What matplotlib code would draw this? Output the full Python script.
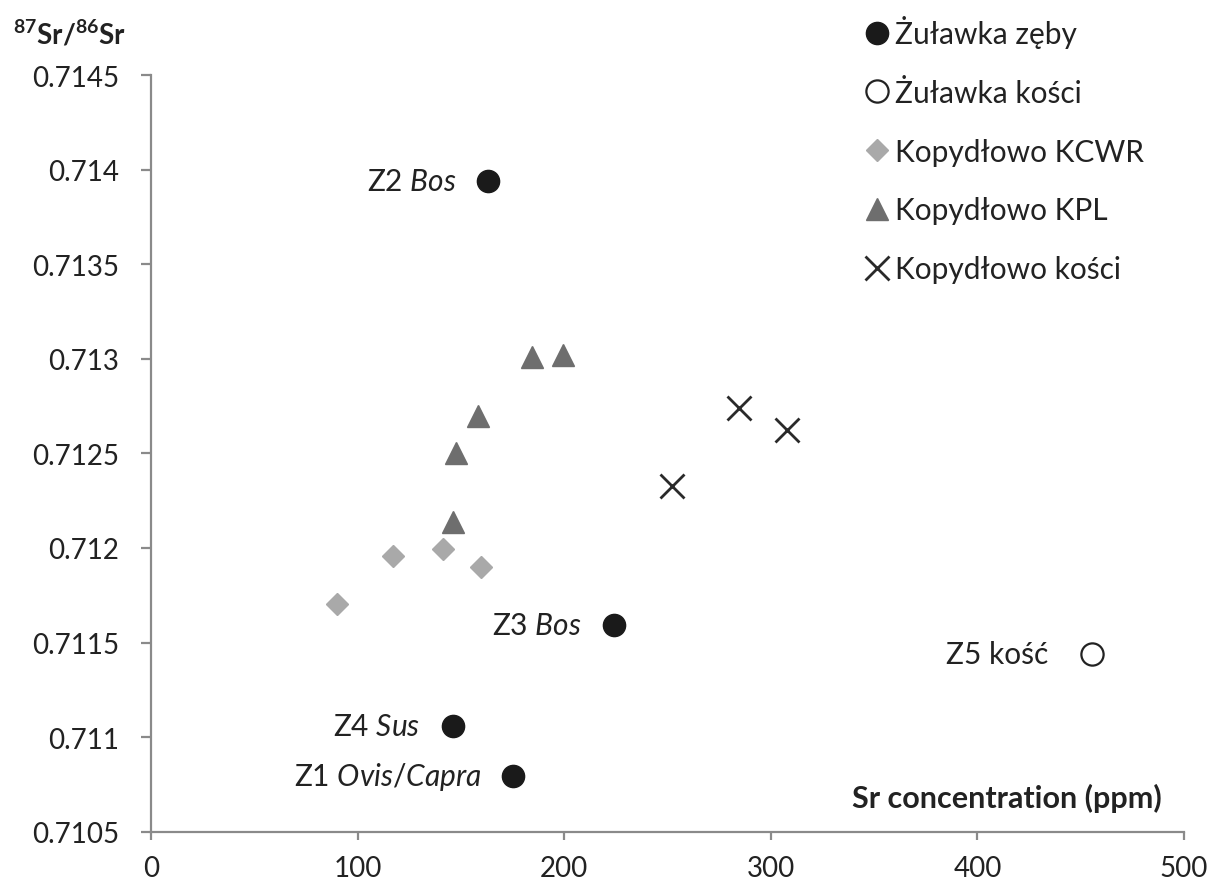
import matplotlib
matplotlib.use("Agg")
import matplotlib.pyplot as plt
from matplotlib.ticker import FixedLocator, FixedFormatter

plt.rcParams['font.family'] = ['Lato', 'DejaVu Sans']
plt.rcParams['mathtext.fontset'] = 'custom'
plt.rcParams['mathtext.rm'] = 'Lato'
plt.rcParams['mathtext.it'] = 'Lato:italic'
plt.rcParams['mathtext.bf'] = 'Lato:bold'

# Żuławka teeth (labelled samples)
zul_teeth_sr = [163.3, 224.1, 146.0, 175.4]
zul_teeth_ratio = [0.713938, 0.711593, 0.711060, 0.710793]
zul_teeth_labels = [r'Z2 $\mathit{Bos}$', r'Z3 $\mathit{Bos}$',
                    r'Z4 $\mathit{Sus}$', r'Z1 $\mathit{Ovis/Capra}$']

# Żuławka bone
zul_bone_sr = [455.3]
zul_bone_ratio = [0.711439]
zul_bone_labels = ['Z5 kość']

# Kopydłowo KCWR
kcwr_sr = [89.9, 117.3, 141.2, 159.6]
kcwr_ratio = [0.711703, 0.711956, 0.711994, 0.711901]

# Kopydłowo KPL
kpl_sr = [184.3, 199.6, 158.1, 147.5, 146.3]
kpl_ratio = [0.713012, 0.713020, 0.712699, 0.712500, 0.712139]

# Kopydłowo bones
kop_bone_sr = [284.8, 307.7, 252.3]
kop_bone_ratio = [0.712738, 0.712625, 0.712326]

series_names = ['Żuławka zęby', 'Żuławka kości', 'Kopydłowo KCWR',
                'Kopydłowo KPL', 'Kopydłowo kości']

x_ticks = [0, 100, 200, 300, 400, 500]
y_ticks = [0.7105, 0.7110, 0.7115, 0.7120, 0.7125, 0.7130, 0.7135, 0.7140, 0.7145]
y_tick_labels = ['0.7105', '0.711', '0.7115', '0.712', '0.7125', '0.713',
                 '0.7135', '0.714', '0.7145']

fig = plt.figure(figsize=(12.11, 8.87), dpi=100)
ax = fig.add_axes([0.1247, 0.0612, 0.853, 0.8531])

h1, = ax.plot(zul_teeth_sr, zul_teeth_ratio, 'o', ms=16, color='#1a1a1a',
              mec='#1a1a1a', label=series_names[0])
h2, = ax.plot(zul_bone_sr, zul_bone_ratio, 'o', ms=16, mfc='white',
              mec='#222222', mew=1.6, label=series_names[1])
h3, = ax.plot(kcwr_sr, kcwr_ratio, 'D', ms=11, color='#a9a9a9',
              mec='#a9a9a9', label=series_names[2])
h4, = ax.plot(kpl_sr, kpl_ratio, '^', ms=15.5, color='#6e6e6e',
              mec='#6e6e6e', label=series_names[3])
h5, = ax.plot(kop_bone_sr, kop_bone_ratio, 'x', ms=17, color='#2a2a2a',
              mew=2.0, label=series_names[4])

for x, y, t in zip(zul_teeth_sr, zul_teeth_ratio, zul_teeth_labels):
    ax.annotate(t, (x, y), xytext=(-23, 0), textcoords='offset points',
                ha='right', va='center', fontsize=21.5, color='#222222')
for x, y, t in zip(zul_bone_sr, zul_bone_ratio, zul_bone_labels):
    ax.annotate(t, (x, y), xytext=(-31, 0), textcoords='offset points',
                ha='right', va='center', fontsize=21.5, color='#222222')

ax.set_xlim(0, 500)
ax.set_ylim(0.7105, 0.7145)
ax.xaxis.set_major_locator(FixedLocator(x_ticks))
ax.yaxis.set_major_locator(FixedLocator(y_ticks))
ax.yaxis.set_major_formatter(FixedFormatter(y_tick_labels))

for s in ['top', 'right']:
    ax.spines[s].set_visible(False)
for s in ['left', 'bottom']:
    ax.spines[s].set_color('#8a8a8a')
    ax.spines[s].set_linewidth(1.6)
ax.tick_params(axis='y', direction='out', length=7, width=1.6,
               color='#8a8a8a', pad=16, labelsize=20, labelcolor='#222222')
ax.tick_params(axis='x', direction='out', length=6, width=1.6,
               color='#8a8a8a', pad=11, labelsize=20, labelcolor='#222222')

fig.text(13 / 1211, 1 - 45 / 887, r'$\mathbf{^{87}Sr/^{86}Sr}$',
         ha='left', va='baseline', fontsize=20, color='#222222')
fig.text(1162 / 1211, 1 - 808 / 887, 'Sr concentration (ppm)',
         ha='right', va='baseline', fontsize=22, fontweight='bold',
         color='#222222')

fig.legend(handles=[h1, h2, h3, h4, h5], loc='upper left',
           bbox_to_anchor=(862 / 1211, 1 - 16 / 887), frameon=False,
           fontsize=21.5, borderpad=0, borderaxespad=0, handlelength=1.0,
           handletextpad=0.12, labelspacing=1.03, labelcolor='#222222')

fig.savefig('out.png', dpi=100, facecolor='white')
